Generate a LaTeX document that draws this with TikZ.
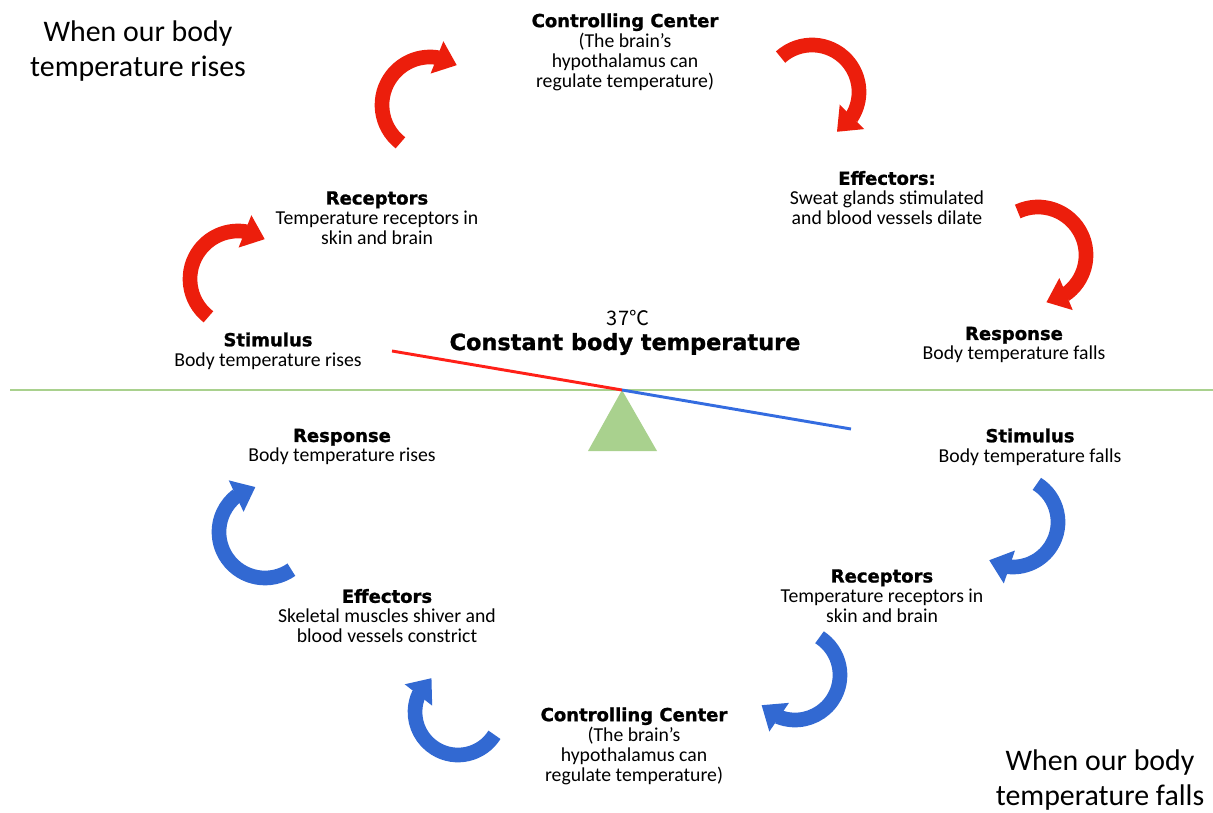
\documentclass[tikz,border=0pt]{standalone}
\usepackage{fontspec}
\setmainfont{Carlito}
\newfontfamily\headfont{DejaVu Sans}[BoldFeatures={FakeBold=1.2}]
\newfontfamily\degfont{Noto Sans CJK SC}
\usetikzlibrary{calc,arrows.meta,bending}

\definecolor{hotred}{RGB}{255,32,24}
\definecolor{arrowred}{RGB}{236,30,12}
\definecolor{coldblue}{RGB}{52,108,224}
\definecolor{arrowblue}{RGB}{50,105,210}
\definecolor{groundgreen}{RGB}{169,209,142}

\newcommand\hd[1]{{\headfont\bfseries\fontsize{13.5}{15}\selectfont #1}}
\def\bendarrow[#1](#2)(#3:#4:#5){\draw[#1] (#2) ++(#3:#5) arc[start angle=#3,end angle=#4,radius=#5];}

\begin{document}
\begin{tikzpicture}[x=0.75pt,y=-0.75pt,
    stage/.style={align=center,inner sep=0pt,font=\fontsize{14.8}{15}\selectfont},
    bigtitle/.style={align=center,inner sep=0pt,font=\fontsize{22.4}{26}\selectfont},
    bendred/.style={line width=11pt,draw=arrowred,-{Triangle[length=16pt,width=25pt,flex]}},
    bendblue/.style={line width=11pt,draw=arrowblue,-{Triangle[length=16pt,width=25pt,flex]}},
    seesaw/.style={line width=2.2pt}]
			%%%%% START %%%%%
			\useasboundingbox (0,0) rectangle (1213,813);

			\node[bigtitle] (hotTitle) at (138,51) {When our body\\temperature rises};
			\node[bigtitle] (coldTitle) at (1100,780) {When our body\\temperature falls};

			% balance
			\coordinate (pivot) at (622,390);
			\coordinate (hotEnd) at (392,351);
			\coordinate (coldEnd) at (851,429);
			\draw[line width=2.2pt, draw=groundgreen] (10,390) -- (1213,390);
			\fill[groundgreen] (pivot) -- (588,451) -- (657,451) -- cycle;
			\draw[seesaw, draw=hotred] (hotEnd) -- (pivot);
			\draw[seesaw, draw=coldblue] (pivot) -- (coldEnd);

			\node[font=\degfont\fontsize{15}{15}\selectfont] (setPoint) at (628,318) {37℃};
			\node[font=\headfont\bfseries\fontsize{16.8}{18}\selectfont] (constant) at (625,344) {Constant body temperature};

			% temperature rises
			\node[stage] (stimHot) at (268,351) {\hd{Stimulus}\\Body temperature rises};
			\node[stage] (recHot) at (377,218) {\hd{Receptors}\\Temperature receptors in\\skin and brain};
			\node[stage] (ctrlHot) at (625,52) {\hd{Controlling Center}\\(The brain’s\\hypothalamus can\\regulate temperature)};
			\node[stage] (effHot) at (887,198) {\hd{Effectors:}\\Sweat glands stimulated\\and blood vessels dilate};
			\node[stage] (respHot) at (1014,345) {\hd{Response}\\Body temperature falls};

			\coordinate (hotA) at (238,279);
			\coordinate (hotB) at (430,105);
			\coordinate (hotC) at (812,92);
			\coordinate (hotD) at (1038,255);
			\bendarrow[bendred](hotA)(128:304:48)
			\bendarrow[bendred](hotB)(128:304:48)
			\bendarrow[bendred](hotC)(228:418:47)
			\bendarrow[bendred](hotD)(245:440:48)

			% temperature falls
			\node[stage] (stimCold) at (1030,447) {\hd{Stimulus}\\Body temperature falls};
			\node[stage] (recCold) at (882,596) {\hd{Receptors}\\Temperature receptors in\\skin and brain};
			\node[stage] (ctrlCold) at (634,746) {\hd{Controlling Center}\\(The brain’s\\hypothalamus can\\regulate temperature)};
			\node[stage] (effCold) at (387,616) {\hd{Effectors}\\Skeletal muscles shiver and\\blood vessels constrict};
			\node[stage] (respCold) at (342,447) {\hd{Response}\\Body temperature rises};

			\coordinate (coldA) at (1013,522);
			\coordinate (coldB) at (795,675);
			\coordinate (coldC) at (458,712);
			\coordinate (coldD) at (265,532);
			\bendarrow[bendblue](coldA)(302:482:45)
			\bendarrow[bendblue](coldB)(303:498:45)
			\bendarrow[bendblue](coldC)(32:232:43)
			\bendarrow[bendblue](coldD)(55:258:46)
			%%%%% END %%%%%
\end{tikzpicture}
\end{document}
